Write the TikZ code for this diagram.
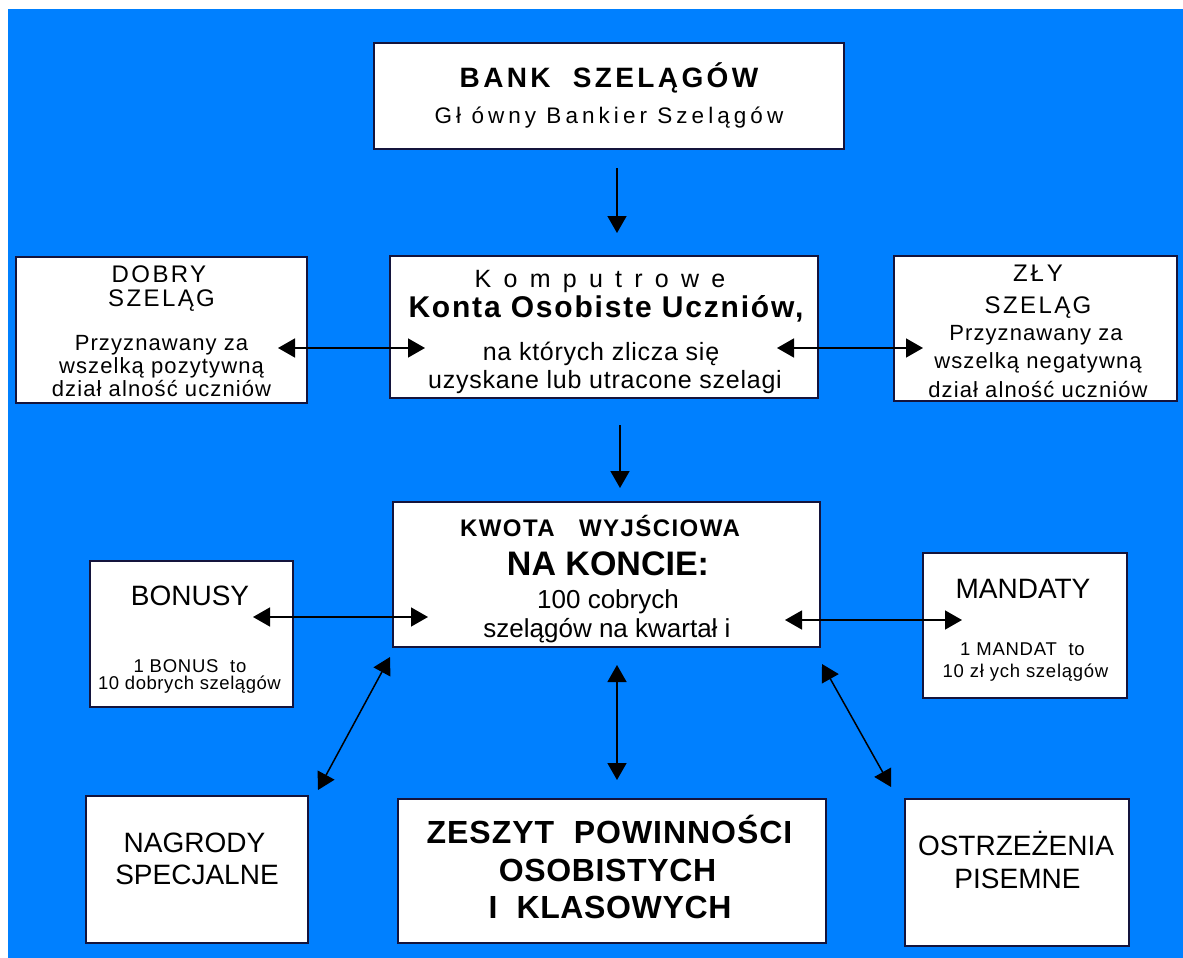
\documentclass[tikz,border=0pt]{standalone}
\usepackage{fontspec}
\setmainfont{Liberation Sans}
\usetikzlibrary{arrows.meta}
\definecolor{bgblue}{RGB}{0,128,255}
\definecolor{boxline}{RGB}{20,20,60}
\newcommand\tline[7]{\node[anchor=base,inner sep=0pt,outer sep=0pt] (#1) at (#2,#3) {\fontsize{#4}{#4}\selectfont#6\addfontfeatures{LetterSpace=#5}#7};}
\newcommand\boxat[5]{\node[wbox,minimum width={(#4-#2)*1pt},minimum height={(#5-#3)*1pt}] (#1) at ({(#2+#4)/2},{(#3+#5)/2}) {};}
\tikzset{
  wbox/.style={draw=boxline,fill=white,line width=1.3pt,inner sep=0pt,outer sep=0pt},
  arr/.style={line width=1.5pt,-{Triangle[length=17pt,width=19pt]}},
  darr/.style={line width=1.5pt,{Triangle[length=17pt,width=19pt]}-{Triangle[length=17pt,width=19pt]}}
}
\begin{document}
\begin{tikzpicture}[x=1pt,y=-1pt]
\useasboundingbox (0,0) rectangle (1183,958);
\fill[white] (0,0) rectangle (1183,958);
\fill[bgblue] (8,9) rectangle (1183,958);
% boxes
\boxat{bank}{374}{43}{844}{149}
\boxat{dobry}{16}{257}{307}{403}
\boxat{konta}{390}{256}{818}{398}
\boxat{zly}{894}{256}{1177}{401}
\boxat{kwota}{393}{502}{820}{647}
\boxat{bonusy}{90}{561}{293}{707}
\boxat{mandaty}{923}{553}{1127}{698}
\boxat{nagrody}{86}{796}{308}{943}
\boxat{zeszyt}{398}{799}{826}{943}
\boxat{ostrz}{905}{799}{1129}{946}
% texts
\tline{bk1}{609}{87}{28}{12}{\bfseries}{BANK\ \ SZELĄGÓW}
\tline{bk2}{609}{123}{22.5}{18}{}{Gł ówny Bankier Szelągów}
\tline{d1}{159}{282}{24}{10}{}{DOBRY}
\tline{d2}{161.5}{306}{24}{10}{}{SZELĄG}
\tline{d3}{161.5}{350}{22}{5}{}{Przyznawany za}
\tline{d4}{161.5}{373}{22}{5}{}{wszelką pozytywną}
\tline{d5}{161.5}{396}{22}{5}{}{dział alność uczniów}
\tline{k1}{600}{287}{25}{49}{}{Komputrowe}
\tline{k2}{606}{317}{30}{6}{\bfseries}{Konta Osobiste Uczniów,}
\tline{k3}{601}{360}{25}{3}{}{na których zlicza się}
\tline{k4}{605}{388}{25}{3}{}{uzyskane lub utracone szelagi}
\tline{z1}{1038}{281}{24}{12}{}{ZŁY}
\tline{z2}{1038}{313}{24}{10}{}{SZELĄG}
\tline{z3}{1036}{340}{22}{5}{}{Przyznawany za}
\tline{z4}{1038}{368}{22}{5}{}{wszelką negatywną}
\tline{z5}{1038}{397}{22}{5}{}{dział alność uczniów}
\tline{q1}{600}{536}{24}{6}{\bfseries}{KWOTA\ \ \ WYJŚCIOWA}
\tline{q2}{608}{575}{34}{0}{\bfseries}{NA KONCIE:}
\tline{q3}{608}{608}{26}{0}{}{100 cobrych}
\tline{q4}{607}{637}{26}{0}{}{szelągów na kwartał i}
\tline{b1}{190}{605}{28}{0}{}{BONUSY}
\tline{b2}{190}{672}{18.5}{4}{}{1 BONUS\ \ to}
\tline{b3}{189.5}{689}{18.5}{3}{}{10 dobrych szelągów}
\tline{m1}{1023}{598}{28}{0}{}{MANDATY}
\tline{m2}{1022.5}{655}{18.5}{4}{}{1 MANDAT\ \ to}
\tline{m3}{1025.5}{677}{18.5}{4}{}{10 zł ych szelągów}
\tline{n1}{194.5}{852}{28}{0}{}{NAGRODY}
\tline{n2}{197}{884}{28}{0}{}{SPECJALNE}
\tline{s1}{609.5}{843}{32}{3}{\bfseries}{ZESZYT\ \ POWINNOŚCI}
\tline{s2}{607.5}{881}{32}{2}{\bfseries}{OSOBISTYCH}
\tline{s3}{610}{918}{32}{2}{\bfseries}{I\ \ KLASOWYCH}
\tline{o1}{1016}{855}{28}{0}{}{OSTRZEŻENIA}
\tline{o2}{1017.5}{888}{28}{0}{}{PISEMNE}
% arrow ends
\coordinate (a1s) at (617,168); \coordinate (a1e) at (617,233);
\coordinate (a2s) at (278,348); \coordinate (a2e) at (425,348);
\coordinate (a3s) at (777,348); \coordinate (a3e) at (923,348);
\coordinate (a4s) at (620,425); \coordinate (a4e) at (620,488);
\coordinate (a5s) at (253,617); \coordinate (a5e) at (428,617);
\coordinate (a6s) at (785,620); \coordinate (a6e) at (962,620);
\coordinate (a7s) at (390,657); \coordinate (a7e) at (318,790);
\coordinate (a8s) at (617,665); \coordinate (a8e) at (617,780);
\coordinate (a9s) at (822,664); \coordinate (a9e) at (891,787);
\draw[arr] (a1s) -- (a1e);
\draw[darr] (a2s) -- (a2e);
\draw[darr] (a3s) -- (a3e);
\draw[arr] (a4s) -- (a4e);
\draw[darr] (a5s) -- (a5e);
\draw[darr] (a6s) -- (a6e);
\draw[darr] (a7s) -- (a7e);
\draw[darr] (a8s) -- (a8e);
\draw[darr] (a9s) -- (a9e);
\end{tikzpicture}
\end{document}
